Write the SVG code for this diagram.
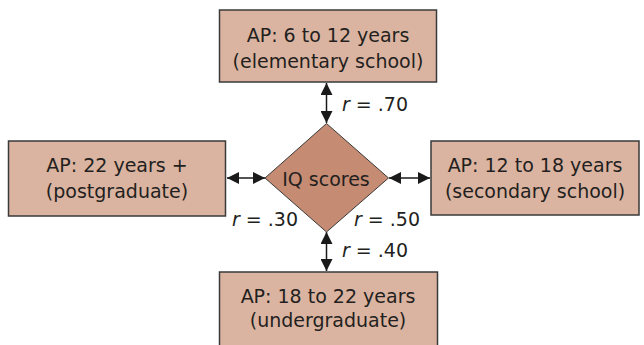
<svg xmlns="http://www.w3.org/2000/svg" width="644" height="345" viewBox="0 0 644 345">
<defs>
<style>
.box{fill:#dbb4a1;stroke:#3a3a3a;stroke-width:1.5}
.dia{fill:#c68b73;stroke:#3a3a3a;stroke-width:1}
.t{font-family:"DejaVu Sans","Liberation Sans",sans-serif;font-size:19px;fill:#231f20;text-anchor:middle}
.r{font-family:"DejaVu Sans","Liberation Sans",sans-serif;font-size:19px;fill:#231f20}
.c{stroke:#1a1a1a;stroke-width:1.5;fill:none;marker-start:url(#ah);marker-end:url(#ah)}
</style>
<marker id="ah" viewBox="0 0 12 12" refX="12" refY="6" markerWidth="12" markerHeight="12" markerUnits="userSpaceOnUse" orient="auto-start-reverse">
<path d="M0,0 L12,6 L0,12 Z" fill="#1a1a1a"/>
</marker>
</defs>
<rect width="644" height="345" fill="#ffffff"/>
<g id="connectors">
<line class="c" x1="326.5" y1="83" x2="326.5" y2="123"/>
<line class="c" x1="326.5" y1="232" x2="326.5" y2="271"/>
<line class="c" x1="227" y1="178" x2="265" y2="178"/>
<line class="c" x1="389" y1="178" x2="430" y2="178"/>
</g>
<g id="top">
<rect class="box" x="219.5" y="10" width="217" height="72"/>
<text class="t" x="328" y="42">AP: 6 to 12 years</text>
<text class="t" x="328" y="68">(elementary school)</text>
</g>
<g id="left">
<rect class="box" x="8.5" y="141" width="217" height="75"/>
<text class="t" x="117" y="172">AP: 22 years +</text>
<text class="t" x="117" y="198">(postgraduate)</text>
</g>
<g id="right">
<rect class="box" x="431" y="141" width="208" height="74"/>
<text class="t" x="535" y="172">AP: 12 to 18 years</text>
<text class="t" x="535" y="198">(secondary school)</text>
</g>
<g id="bottom">
<rect class="box" x="219.5" y="272" width="218" height="80"/>
<text class="t" x="328" y="303">AP: 18 to 22 years</text>
<text class="t" x="328" y="327">(undergraduate)</text>
</g>
<g id="iq">
<polygon class="dia" points="326.5,123.5 388.5,178 326.5,232 265,178"/>
<text class="t" x="326" y="186">IQ scores</text>
</g>
<g id="labels">
<text class="r" x="342" y="111"><tspan font-style="italic">r</tspan> = .70</text>
<text class="r" x="232" y="226"><tspan font-style="italic">r</tspan> = .30</text>
<text class="r" x="354" y="226"><tspan font-style="italic">r</tspan> = .50</text>
<text class="r" x="342" y="257"><tspan font-style="italic">r</tspan> = .40</text>
</g>
</svg>
